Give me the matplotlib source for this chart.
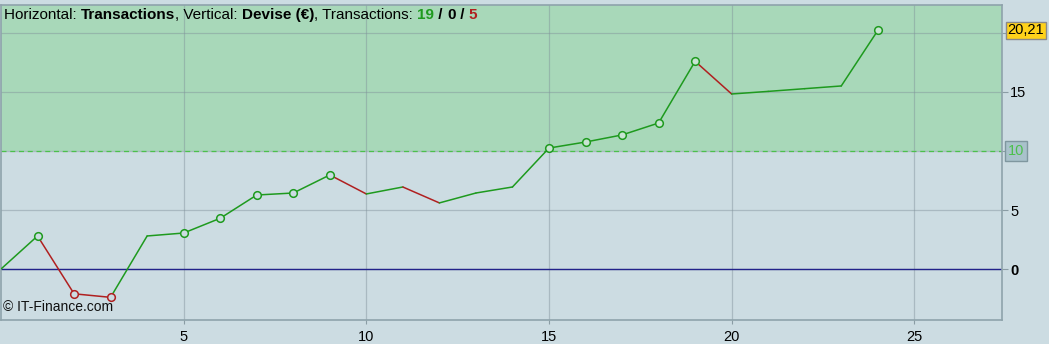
import matplotlib
matplotlib.use("Agg")
import matplotlib.pyplot as plt

plt.rcParams['font.family'] = ['Liberation Sans', 'DejaVu Sans']

# Data
trades = list(range(0, 25))
equity = [0, 2.8, -2.1, -2.4, 2.8, 3.05, 4.3, 6.27, 6.44, 7.97, 6.36, 6.95, 5.6,
          6.44, 6.95, 10.25, 10.76, 11.36, 12.37, 17.6, 14.83, 15.05, 15.28, 15.51, 20.21]
marker_idx = [1, 2, 3, 5, 6, 7, 8, 9, 15, 16, 17, 18, 19, 24]
threshold = 10
last_value = "20,21"
x_ticks = [5, 10, 15, 20, 25]
y_ticks = [0, 5, 15]
wins, draws, losses = 19, 0, 5

GREEN = '#1e9a1e'
RED = '#b02020'
BG = '#ccdce2'
GREEN_BG = '#a8d8b9'

fig = plt.figure(figsize=(10.49, 3.44), dpi=100, facecolor=BG)
ax = fig.add_axes([1/1049, 24/344, 1001/1049, 315/344])
ax.set_facecolor(BG)
ax.set_xlim(0, 27.4)
ax.set_ylim(-4.32, 22.37)

ax.axhspan(threshold, 30, color=GREEN_BG, zorder=0, lw=0)
ax.grid(True, color='#7f9099', alpha=0.45, lw=0.9, zorder=1)
ax.set_xticks(x_ticks)
ax.set_yticks(y_ticks + [threshold, 20])
ax.set_yticklabels(['0', '5', '15', '', ''])
ax.axhline(threshold, color='#4cc04c', ls=(0, (4, 3)), lw=0.9, zorder=2)
ax.axhline(0, color='#22228a', lw=1.0, zorder=2)

for i in range(len(equity) - 1):
    c = GREEN if equity[i + 1] >= equity[i] else RED
    ax.plot(trades[i:i + 2], equity[i:i + 2], color=c, lw=1.1, zorder=3,
            solid_capstyle='round')

for i in marker_idx:
    up = equity[i] >= equity[i - 1]
    ax.plot(trades[i], equity[i], 'o', ms=5.5, mfc=BG if equity[i] < threshold else '#c8e4d2',
            mec=GREEN if up else RED, mew=1.1, zorder=4)

ax.yaxis.tick_right()
ax.tick_params(axis='y', length=4, color='#8a9ca4', labelsize=10.5, pad=2)
ax.tick_params(axis='x', length=3, color='#8a9ca4', labelsize=10.5, pad=4)
for lab in ax.get_yticklabels():
    if lab.get_text() == '0':
        lab.set_fontweight('bold')
for s in ax.spines.values():
    s.set_color('#8ea3ab')
    s.set_linewidth(1.2)

# value boxes on the right
ax.text(1.006, threshold, str(threshold), transform=ax.get_yaxis_transform(),
        va='center', ha='left', fontsize=10.5, color='#4cc04c',
        bbox=dict(boxstyle='square,pad=0.2', fc='#a9c2cb', ec='#7f979f', lw=1))
ax.text(1.0055, equity[-1], last_value, transform=ax.get_yaxis_transform(),
        va='center', ha='left', fontsize=10.5, color='black',
        bbox=dict(boxstyle='square,pad=0.12', fc='#ffd21a', ec='#8a8a8a', lw=1))

# title
parts = [("Horizontal: ", 'normal', 'black'), ("Transactions", 'bold', 'black'),
         (", Vertical: ", 'normal', 'black'), ("Devise (€)", 'bold', 'black'),
         (", Transactions: ", 'normal', 'black'), (str(wins), 'bold', GREEN),
         (" / ", 'bold', 'black'), (str(draws), 'bold', 'black'),
         (" / ", 'bold', 'black'), (str(losses), 'bold', RED)]
t = ax.text(0.003, 0.99, parts[0][0], transform=ax.transAxes, fontsize=11,
            fontweight=parts[0][1], color=parts[0][2], va='top', ha='left')
for txt, w, c in parts[1:]:
    t = ax.annotate(txt, xy=(1, 0), xycoords=t, va='bottom', ha='left',
                    fontsize=11, fontweight=w, color=c)

ax.text(0.002, 0.02, "© IT-Finance.com", transform=ax.transAxes, fontsize=10,
        va='bottom', ha='left', color='#111111')

fig.savefig('out.png', dpi=100, facecolor=BG)
